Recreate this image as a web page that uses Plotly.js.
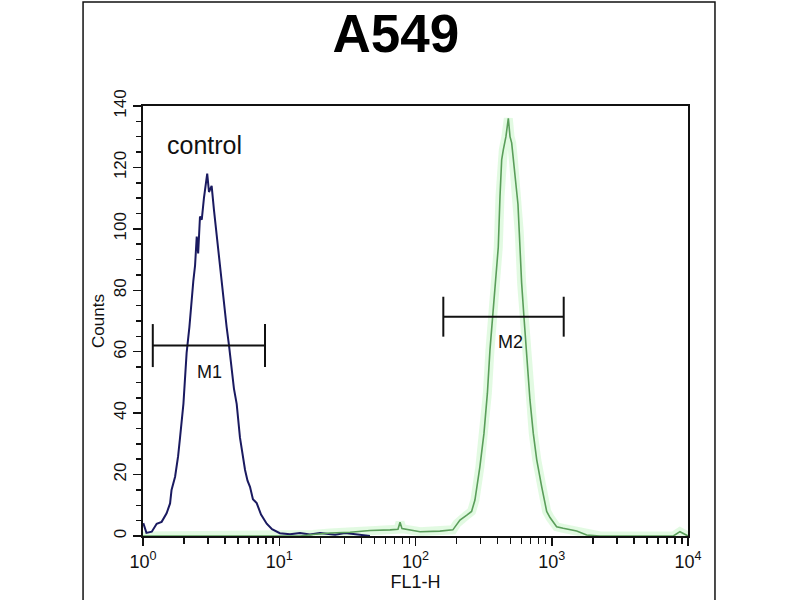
<!DOCTYPE html>
<html>
<head>
<meta charset="utf-8">
<script src="https://cdn.plot.ly/plotly-3.0.1.min.js"></script>
<style>html,body{margin:0;padding:0;background:#fff;}#chart{width:800px;height:600px;}</style>
</head>
<body>
<div id="chart"></div>
<script>
// ---- data ----
const chartTitle = 'A549';
const xAxisLabel = 'FL1-H';
const yAxisLabel = 'Counts';

// control histogram (FL1-H intensity, counts)
const controlX = [1.005, 1.06, 1.16, 1.26, 1.37, 1.49, 1.58, 1.62, 1.72, 1.81, 1.87, 1.98, 2.09, 2.19, 2.34, 2.41, 2.48, 2.54, 2.62, 2.70, 2.80, 2.96, 3.05, 3.19, 3.32, 3.48, 3.61, 3.78, 3.93, 4.11, 4.28, 4.48, 4.65, 4.87, 5.15, 5.61, 5.85, 6.10, 6.41, 6.83, 7.35, 8.09, 8.85, 10.1, 12.0, 14.2, 16.8, 19.9, 25.7, 30.4, 39.1, 46.3];
const controlY = [4.2, 1, 1.4, 4, 4.6, 7.4, 10.6, 15, 19.3, 26, 32, 43, 59.6, 68, 83, 88, 97.5, 92, 104, 103, 110, 118, 112, 114, 106, 97.5, 90, 81, 76, 68, 62, 55, 48, 43, 32, 21.5, 18, 16, 12, 10.7, 7, 4, 2.2, 0.9, 0.6, 1, 0.5, 1, 0.4, 1, 0.3, 0];

// A549 stained histogram
const sampleX = [1.0, 14.2, 17.7, 23.6, 33.1, 46.4, 65.0, 74.4, 77.0, 79.6, 108, 151, 188, 201, 212, 238, 258, 273, 297, 318, 337, 352, 373, 390, 405, 417, 429, 441, 461, 480, 494, 508, 524, 537, 553, 565, 578, 601, 625, 655, 692, 732, 776, 844, 918, 971, 1086, 1213, 1524, 1804, 2260, 7800, 8730, 10000];
const sampleY = [0, 0, 0.5, 1, 1.2, 1.8, 2, 2.2, 4.5, 2.4, 1.4, 1.6, 2, 4, 5.2, 6.8, 8, 11.7, 22.6, 33.4, 46.5, 60.6, 74.7, 84.5, 94, 110.5, 122.5, 125.7, 130, 136, 130, 128, 122, 116, 111.6, 108, 98.7, 82.4, 71.4, 57.3, 44.3, 33.4, 24.8, 16, 8, 6, 3, 2.5, 1.6, 0.3, 0, 0, 1.4, 0];

// gates
const gateNames = ['M1', 'M2'];
const gateLow = [1.18, 160];
const gateHigh = [7.86, 1224];
const gateLevel = [62, 71.4];
const gateCap = [7, 6.5];
const gateLabelX = [3.1, 502];
const gateLabelY = [53.4, 63.2];

const controlLabel = 'control';
const controlLabelX = 2.85;
const controlLabelY = 127.4;

const xTickVals = [1, 10, 100, 1000, 10000];
const xTickText = ['10<sup>0</sup>', '10<sup>1</sup>', '10<sup>2</sup>', '10<sup>3</sup>', '10<sup>4</sup>'];

// ---- build ----
const minorVals = [];
for (let d = 0; d < 4; d++) for (let k = 2; k <= 9; k++) minorVals.push(k * Math.pow(10, d));

const gx = [], gy = [];
gateNames.forEach((n, i) => {
  const lo = gateLow[i], hi = gateHigh[i], L = gateLevel[i], c = gateCap[i];
  gx.push(lo, lo, null, lo, hi, null, hi, hi, null);
  gy.push(L - c, L + c, null, L, L, null, L - c, L + c, null);
});

const traces = [
  {x: sampleX, y: sampleY, mode: 'lines', line: {color: 'rgba(160,238,160,0.3)', width: 9}, hoverinfo: 'skip', showlegend: false},
  {x: controlX, y: controlY, mode: 'lines', line: {color: '#1a1a60', width: 2}, showlegend: false},
  {x: sampleX, y: sampleY, mode: 'lines', line: {color: '#5a9e5a', width: 1.6}, showlegend: false},
  {x: gx, y: gy, mode: 'lines', line: {color: '#111', width: 2}, hoverinfo: 'skip', showlegend: false}
];

const font = 'Liberation Sans, Arial, sans-serif';
const annotations = gateNames.map((n, i) => ({
  x: Math.log10(gateLabelX[i]), y: gateLabelY[i], xref: 'x', yref: 'y', text: n, showarrow: false,
  font: {family: font, size: 18, color: '#111'}
}));
annotations.push({x: Math.log10(controlLabelX), y: controlLabelY, xref: 'x', yref: 'y', text: controlLabel, showarrow: false,
  font: {family: font, size: 25, color: '#111'}});

const layout = {
  width: 800, height: 600,
  margin: {l: 143, r: 112, t: 106, b: 64},
  paper_bgcolor: '#fff', plot_bgcolor: '#fff',
  font: {family: font, color: '#111'},
  title: {text: '<b>' + chartTitle + '</b>', font: {family: font, size: 53, color: '#000'},
          xref: 'paper', x: 0.464, xanchor: 'center', yref: 'container', y: 0.945, yanchor: 'middle'},
  xaxis: {
    type: 'log', range: [0, 4], tickmode: 'array', tickvals: xTickVals, ticktext: xTickText,
    ticks: 'outside', ticklen: 8, tickwidth: 1.5, tickcolor: '#111',
    minor: {tickmode: 'array', tickvals: minorVals, ticks: 'outside', ticklen: 6, tickwidth: 1.5, tickcolor: '#111', showgrid: false},
    showline: true, linecolor: '#111', linewidth: 2, mirror: true, showgrid: false, zeroline: false,
    tickfont: {family: font, size: 18, color: '#111'},
    title: {text: xAxisLabel, font: {family: font, size: 18, color: '#111'}, standoff: 3}
  },
  yaxis: {
    range: [0, 140], dtick: 20, tick0: 0, tickangle: -90,
    ticks: 'outside', ticklen: 8, tickwidth: 1.5, tickcolor: '#111',
    minor: {dtick: 5, ticks: 'outside', ticklen: 5, tickwidth: 1.5, tickcolor: '#111', showgrid: false},
    showline: true, linecolor: '#111', linewidth: 2, mirror: true, showgrid: false, zeroline: false,
    tickfont: {family: font, size: 17, color: '#111'},
    title: {text: yAxisLabel, font: {family: font, size: 17, color: '#111'}, standoff: 2}
  },
  shapes: [{type: 'rect', xref: 'paper', yref: 'paper', x0: -0.110, x1: 1.0495, y0: -0.2, y1: 1.2419,
            line: {color: '#111', width: 1.5}, fillcolor: 'rgba(0,0,0,0)', layer: 'below'}],
  annotations: annotations
};

Plotly.newPlot('chart', traces, layout, {displayModeBar: false, staticPlot: true});
</script>
</body>
</html>
